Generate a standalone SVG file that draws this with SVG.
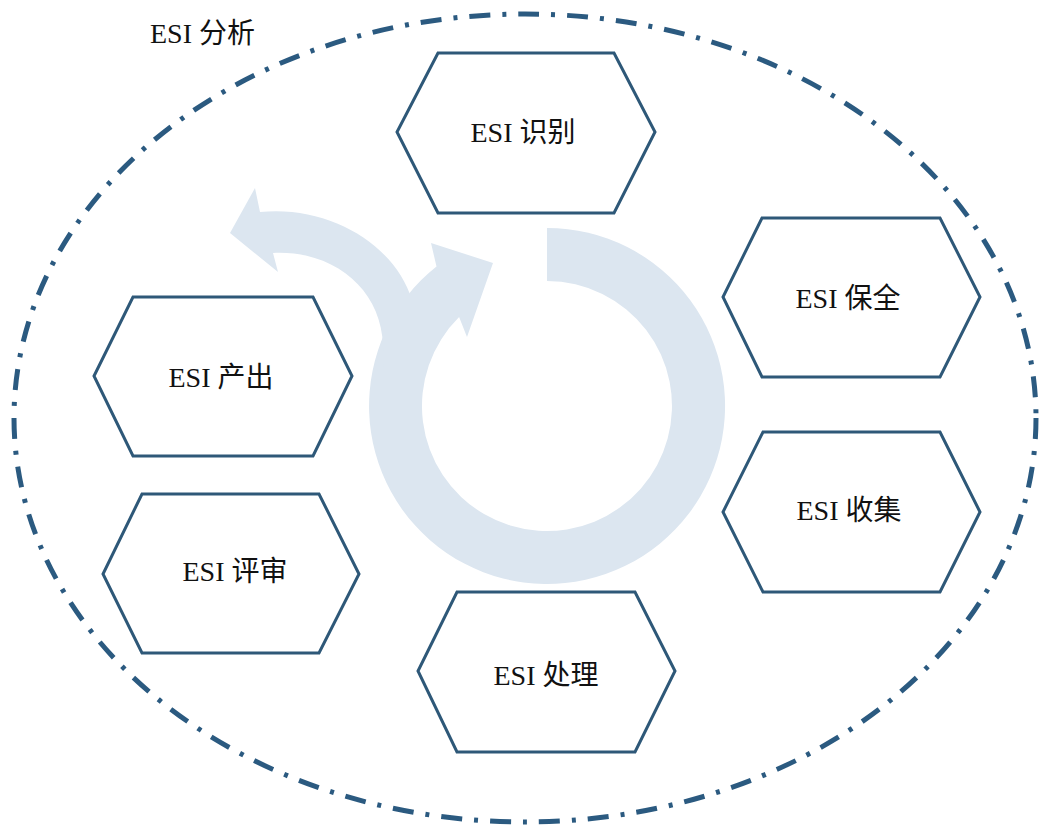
<svg xmlns="http://www.w3.org/2000/svg" width="1039" height="825" viewBox="0 0 1039 825">
  <style>
    .hex { fill: #ffffff; stroke: #2e5878; stroke-width: 3; stroke-linejoin: miter; }
    .lbl { font-family: "Liberation Serif", "Noto Sans CJK SC", serif; font-size: 28px; fill: #111111; text-anchor: middle; }
    .cyc { fill: #dce6f0; stroke: none; }
    .bound { fill: none; stroke: #2b5a80; stroke-width: 5; stroke-dasharray: 21 12 4 12; }
  </style>
  <rect width="1039" height="825" fill="#ffffff"/>

  <g id="boundary">
    <ellipse class="bound" cx="525" cy="418" rx="511" ry="404"/>
    <text x="150" y="43" style="font-family:'Liberation Serif','Noto Sans CJK SC',serif;font-size:28px;fill:#111111">ESI 分析</text>
  </g>

  <g id="connectors">
    <path class="cyc" d="M547,228 A178,178 0 1 1 436.5,266.5 L431,243 L493,263 L467,337 L459.1,317.1 A125,125 0 1 0 547,281 Z"/>
    <path class="cyc" d="M384,370 L383,345 C381,290 335,250 273,253 L278,272 L230,233 L255,188 L260,212 C330,205 395,245 412,300 L420,320 L400,370 Z"/>
  </g>

  <g id="node-identify">
    <polygon class="hex" points="438,53 614,53 655,132 614,213 438,213 397,132"/>
    <text class="lbl" x="523" y="142">ESI 识别</text>
  </g>

  <g id="node-preserve">
    <polygon class="hex" points="762,218 940,218 980,297 940,377 762,377 723,297"/>
    <text class="lbl" x="848" y="308">ESI 保全</text>
  </g>

  <g id="node-collect">
    <polygon class="hex" points="763,432 940,432 980,512 940,592 763,592 723,512"/>
    <text class="lbl" x="849" y="520">ESI 收集</text>
  </g>

  <g id="node-process">
    <polygon class="hex" points="457,592 635,592 675,671 635,752 457,752 418,671"/>
    <text class="lbl" x="546" y="685">ESI 处理</text>
  </g>

  <g id="node-review">
    <polygon class="hex" points="142,494 319,494 359,574 319,653 142,653 103,574"/>
    <text class="lbl" x="235" y="581">ESI 评审</text>
  </g>

  <g id="node-produce">
    <polygon class="hex" points="133,297 313,297 352,376 313,456 133,456 94,376"/>
    <text class="lbl" x="221" y="387">ESI 产出</text>
  </g>
</svg>
